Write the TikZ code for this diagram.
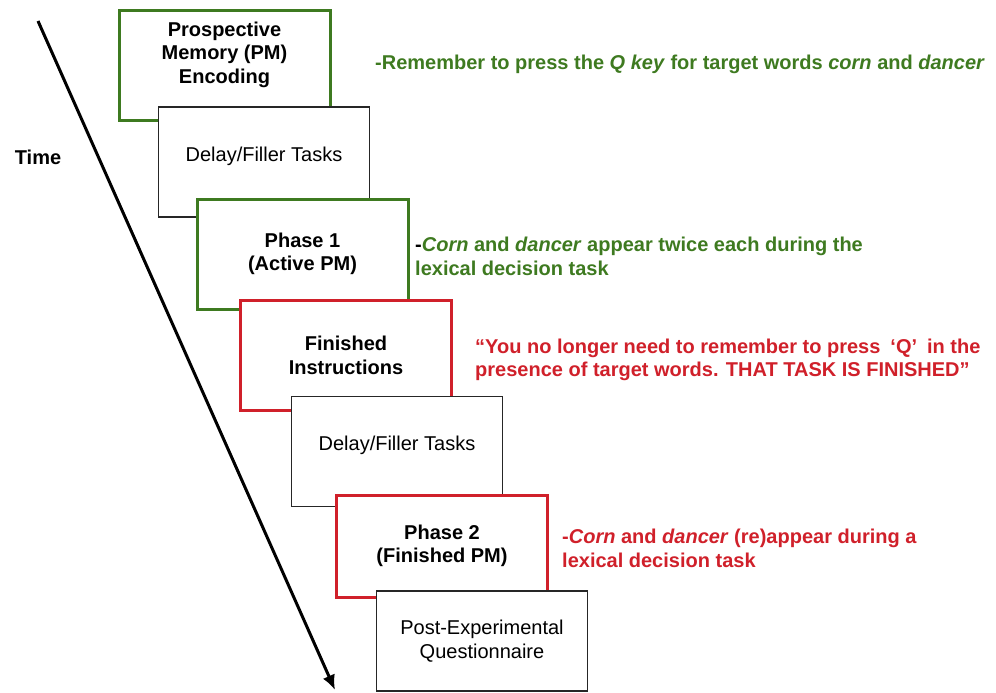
\documentclass[tikz,border=0pt]{standalone}
\usepackage{fontspec}
\setmainfont{Liberation Sans}
\usepackage{tikz}
\usetikzlibrary{arrows.meta,positioning,calc}
\definecolor{pmGreen}{RGB}{62,122,32}
\definecolor{pmRed}{RGB}{208,32,42}
\newcommand{\figFont}{\fontsize{20}{23.5}\selectfont}
\tikzstyle{stageBox}=[draw,fill=white,rectangle,minimum width=211pt,minimum height=110pt,inner sep=0pt,align=center,font=\figFont]
\tikzstyle{greenBox}=[stageBox,draw=pmGreen,line width=3pt,font=\figFont\bfseries]
\tikzstyle{redBox}=[stageBox,draw=pmRed,line width=3pt,font=\figFont\bfseries]
\tikzstyle{plainBox}=[stageBox,draw=black!85,line width=1.5pt]
\tikzstyle{note}=[anchor=west,inner sep=0pt,align=left,font=\figFont\bfseries]

\begin{document}
\begin{tikzpicture}[x=1pt,y=-1pt,font=\figFont]
      \useasboundingbox (0,0) rectangle (996,693);
      \coordinate (t0) at (38,21);
      \coordinate (t1) at (335,690);
      \draw [line width=3pt,-{Latex[length=15pt,width=13pt]}] (t0) -- (t1);
      \node [font=\figFont\bfseries] (time) at (38,157) {Time};
      \node [greenBox,text depth=26pt] (pmEnc) at (224.5,65.5) {Prospective\\Memory (PM)\\Encoding};
      \node [plainBox,text depth=16pt] (delayA) at (264,162) {Delay/Filler Tasks};
      \node [greenBox] (phaseA) at (302.5,254) {Phase 1\\(Active PM)};
      \node [redBox] (finInstr) at (346,355.5) {Finished\\Instructions};
      \node [plainBox,text depth=16pt] (delayB) at (397,451.5) {Delay/Filler Tasks};
      \node [redBox,minimum height=102pt] (phaseB) at (442,546) {Phase 2\\(Finished PM)};
      \node [plainBox,minimum height=100pt] (postQ) at (482,641) {Post-Experimental\\Questionnaire};
      \node [note,text=pmGreen] (noteEnc) at (375,64)
        {-Remember to press the \textit{Q key} for target words \textit{corn} and \textit{dancer}};
      \node [note,text=pmGreen] (notePhaseA) at (415,256.5)
        {\textcolor{black}{-}\textit{Corn} and \textit{dancer} appear twice each during the\\lexical decision task};
      \node [note,text=pmRed] (noteFin) at (475,360)
        {“You no longer need to remember to press\enspace‘Q’\enspace{}in the\\presence of target words. THAT TASK IS FINISHED”};
      \node [note,text=pmRed] (notePhaseB) at (562,548.5)
        {-\textit{Corn} and \textit{dancer} (re)appear during a\\lexical decision task};
\end{tikzpicture}
\end{document}
